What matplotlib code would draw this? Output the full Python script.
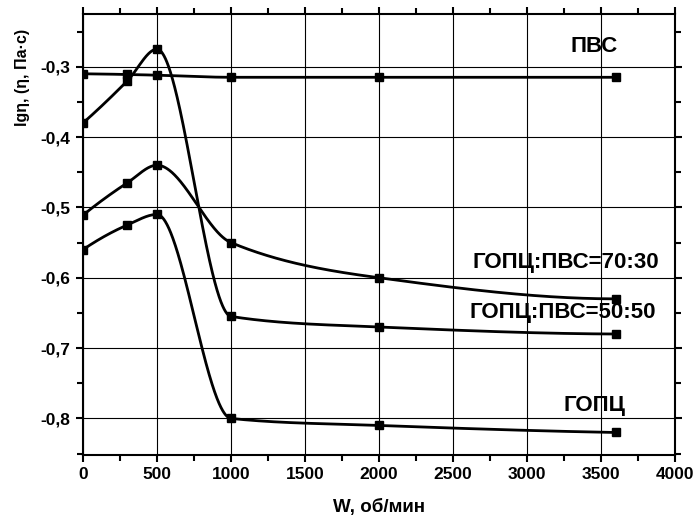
import numpy as np
import matplotlib
matplotlib.use("Agg")
import matplotlib.pyplot as plt
from matplotlib.ticker import MultipleLocator, FuncFormatter

plt.rcParams['font.family'] = ['Liberation Sans', 'DejaVu Sans']
plt.rcParams['font.weight'] = 'bold'

# данные
w = [0, 300, 500, 1000, 2000, 3600]
pvs = [-0.310, -0.311, -0.312, -0.315, -0.315, -0.315]
gopc_50_50 = [-0.380, -0.320, -0.275, -0.655, -0.670, -0.680]
gopc_70_30 = [-0.511, -0.465, -0.440, -0.550, -0.600, -0.630]
gopc = [-0.560, -0.525, -0.510, -0.800, -0.810, -0.820]

series = [pvs, gopc_50_50, gopc_70_30, gopc]
labels = ["ПВС", "ГОПЦ:ПВС=70:30", "ГОПЦ:ПВС=50:50", "ГОПЦ"]
label_x = [3615, 3892, 3872, 3662]
label_y = [-0.2715, -0.579, -0.650, -0.7815]


def pchip(x, y, xn):
    # монотонный эрмитов сплайн, чтобы кривые шли плавно как в Origin
    x = np.asarray(x, float)
    y = np.asarray(y, float)
    h = np.diff(x)
    d = np.diff(y) / h
    n = len(x)
    m = np.zeros(n)
    for k in range(1, n - 1):
        if d[k - 1] * d[k] > 0:
            w1 = 2 * h[k] + h[k - 1]
            w2 = h[k] + 2 * h[k - 1]
            m[k] = (w1 + w2) / (w1 / d[k - 1] + w2 / d[k])
    m[0] = ((2 * h[0] + h[1]) * d[0] - h[0] * d[1]) / (h[0] + h[1])
    if m[0] * d[0] <= 0:
        m[0] = 0
    m[-1] = ((2 * h[-1] + h[-2]) * d[-1] - h[-1] * d[-2]) / (h[-1] + h[-2])
    if m[-1] * d[-1] <= 0:
        m[-1] = 0
    idx = np.clip(np.searchsorted(x, xn) - 1, 0, n - 2)
    t = (xn - x[idx]) / h[idx]
    h00 = 2 * t**3 - 3 * t**2 + 1
    h10 = t**3 - 2 * t**2 + t
    h01 = -2 * t**3 + 3 * t**2
    h11 = t**3 - t**2
    return h00 * y[idx] + h10 * h[idx] * m[idx] + h01 * y[idx + 1] + h11 * h[idx] * m[idx + 1]


fig = plt.figure(figsize=(6.99, 5.24), dpi=100)
ax = fig.add_axes([0.1187, 0.1317, 0.847, 0.8416])

xs = np.linspace(0, 3600, 1500)
for s in series:
    ax.plot(xs, pchip(w, s, xs), color='black', lw=2.0, zorder=3)
    ax.plot(w, s, ls='none', marker='s', ms=5.5, color='black', zorder=4)

for txt, tx, ty in zip(labels, label_x, label_y):
    ax.text(tx, ty, txt, ha='right', va='center', fontsize=16, fontweight='bold')

ax.set_xlim(0, 4000)
ax.set_ylim(-0.852, -0.225)
ax.xaxis.set_major_locator(MultipleLocator(500))
ax.xaxis.set_minor_locator(MultipleLocator(250))
ax.yaxis.set_major_locator(MultipleLocator(0.1))
ax.yaxis.set_minor_locator(MultipleLocator(0.05))
ax.yaxis.set_major_formatter(FuncFormatter(lambda v, p: ("%.1f" % v).replace('.', ',')))

ax.grid(True, which='major', color='black', lw=0.8)
ax.tick_params(which='both', direction='out', width=1.5, labelsize=12.5, pad=4)
ax.tick_params(which='major', length=5)
ax.tick_params(which='minor', length=4)
ax.tick_params(which='both', top=True, right=True)
for sp in ax.spines.values():
    sp.set_linewidth(1.5)
for lab in ax.get_xticklabels() + ax.get_yticklabels():
    lab.set_fontweight('bold')

ax.set_xlabel("W, об/мин", fontsize=13.5, fontweight='bold', labelpad=12)
ax.set_ylabel("lgη, (η, Па·с)", fontsize=11.5, fontweight='bold', labelpad=4)
ax.yaxis.set_label_coords(-0.09, 0.855)

fig.savefig("out.png", dpi=100)
